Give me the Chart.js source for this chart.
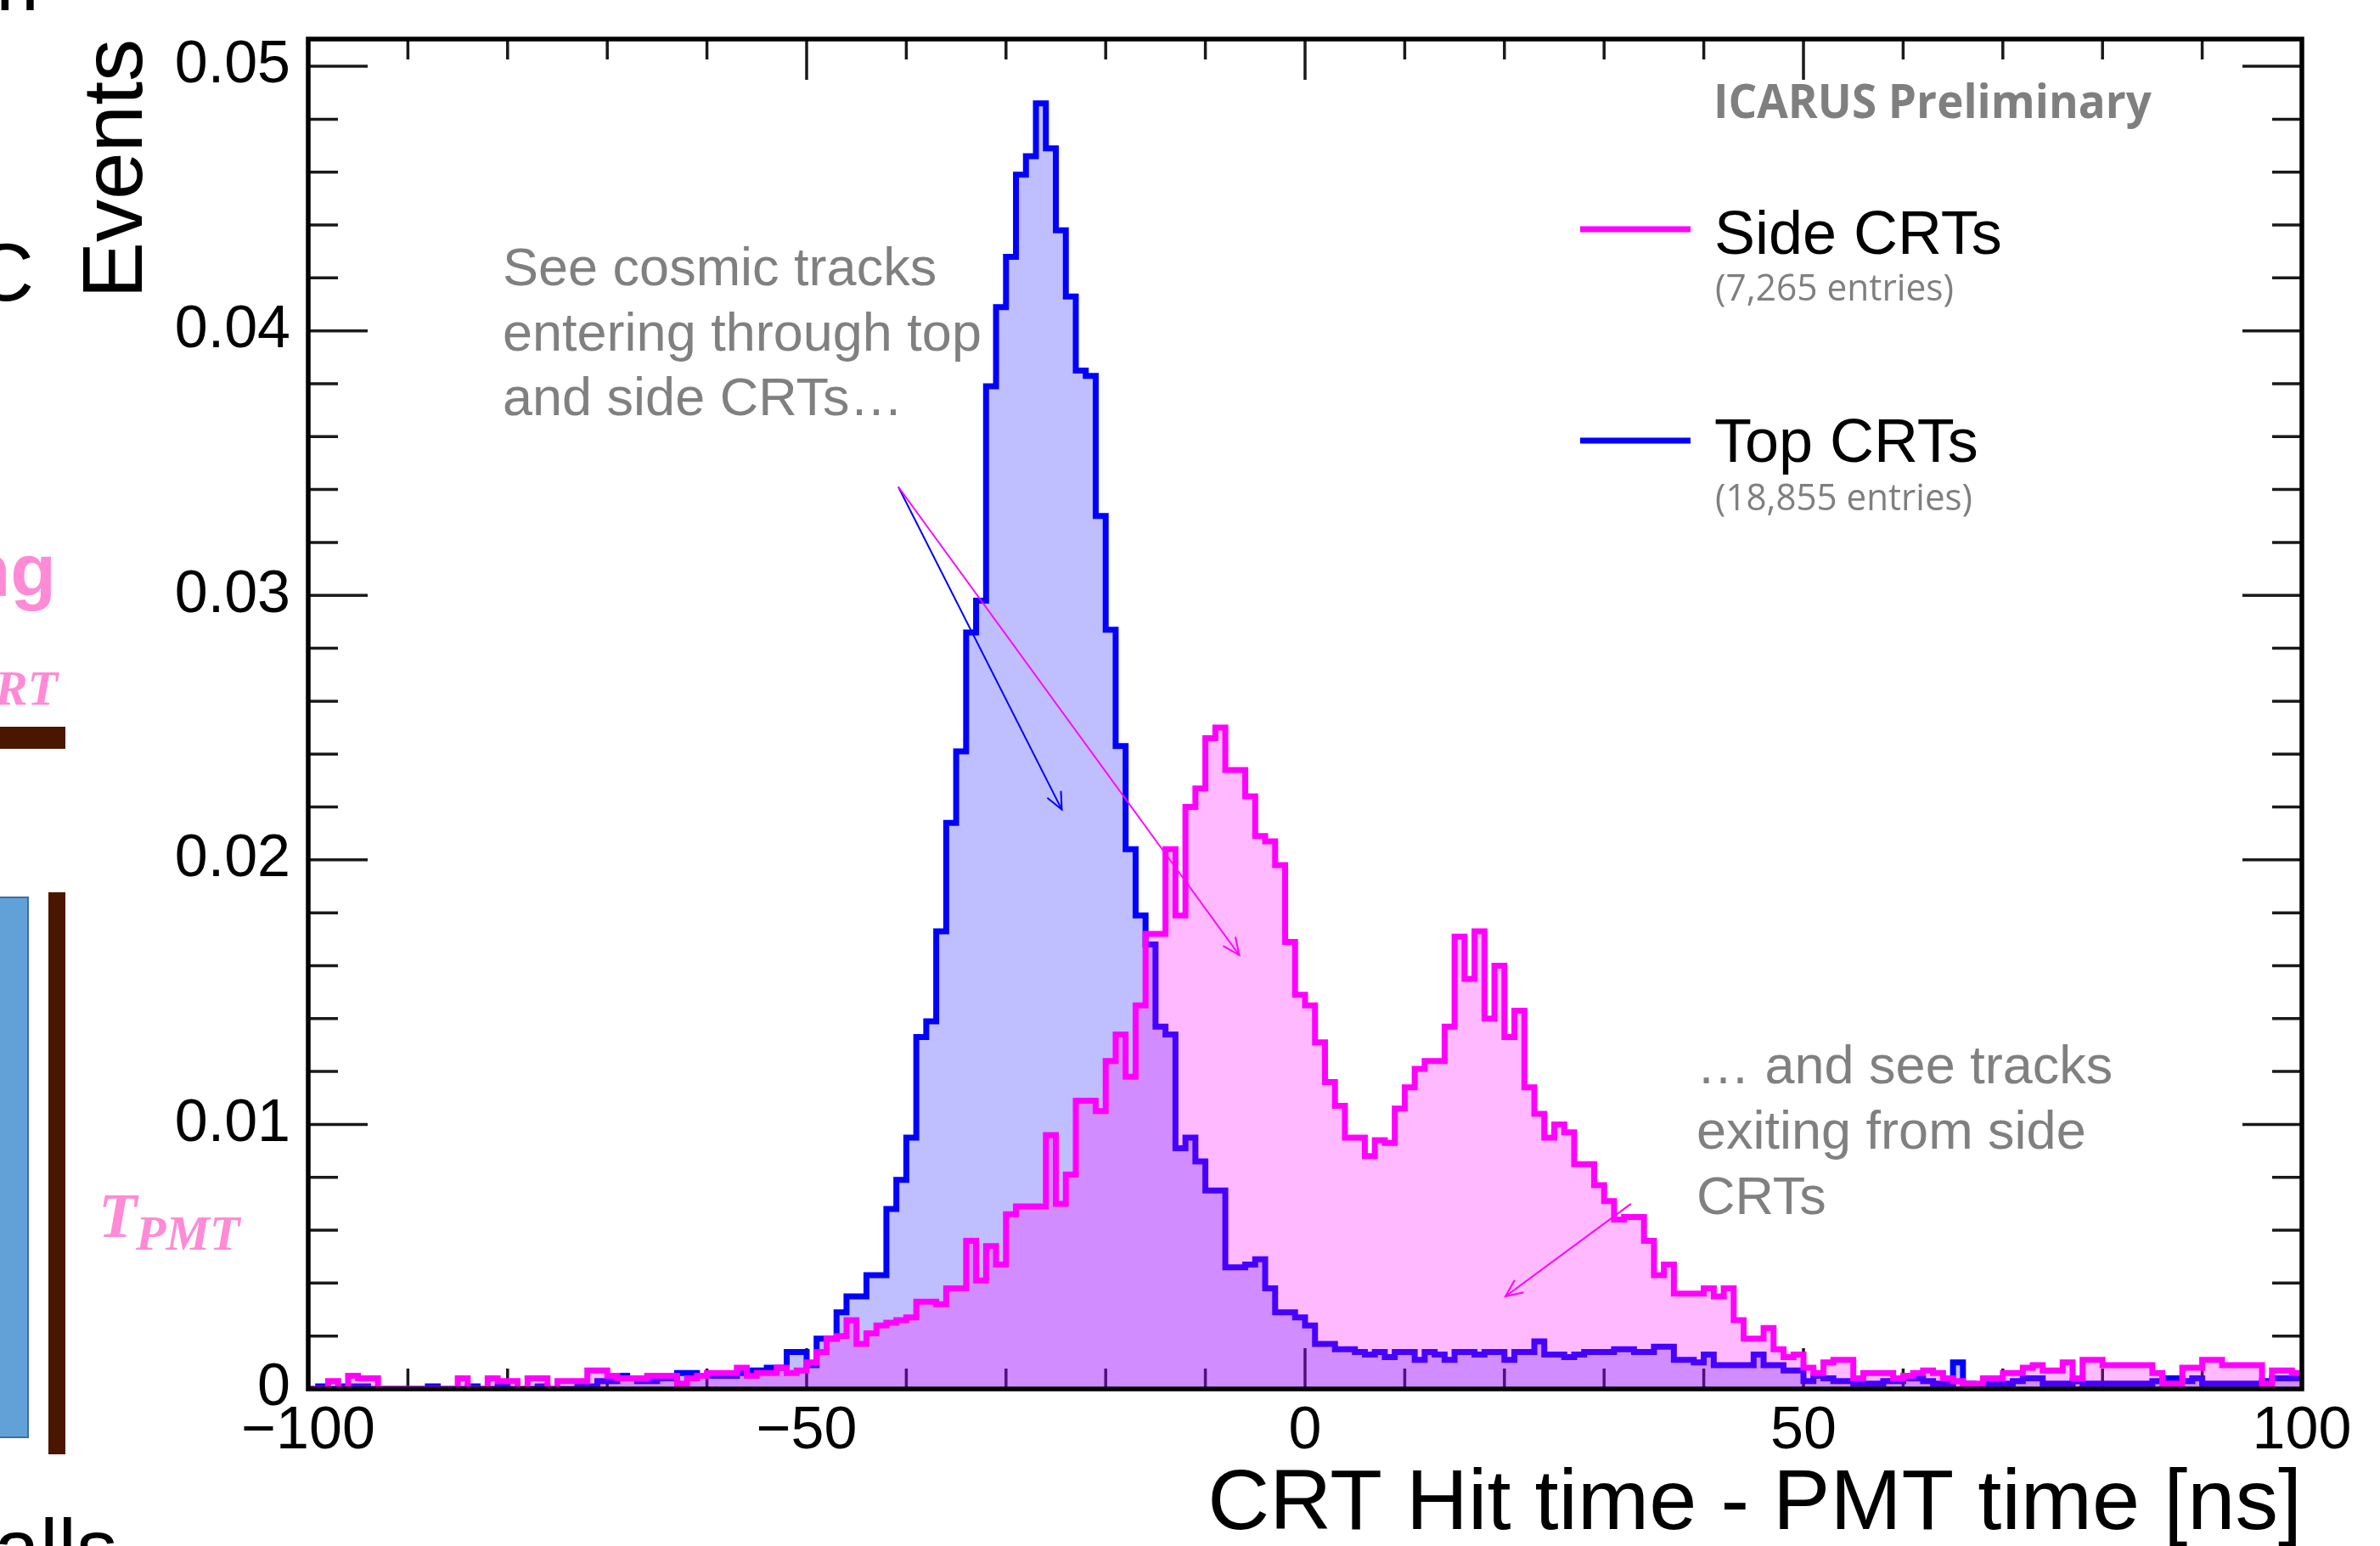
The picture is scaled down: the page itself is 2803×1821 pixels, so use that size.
<!DOCTYPE html>
<html><head><meta charset="utf-8">
<script src="https://cdn.jsdelivr.net/npm/chart.js@4.4.1/dist/chart.umd.min.js"></script>
<style>html,body{margin:0;padding:0;background:#fff;overflow:hidden}canvas{display:block}</style>
</head><body>
<canvas id="c" width="2803" height="1821" style="width:2803px;height:1821px"></canvas>
<script>
// ---- data ----
const BIN_LO = -100;       // left edge of first bin [ns]
const BIN_W = 1;           // bin width [ns]
const seriesNames = ['Side CRTs', 'Top CRTs'];
const seriesEntries = ['(7,265 entries)', '(18,855 entries)'];
const xTickValues = [-100, -50, 0, 50, 100];
const yTickValues = [0, 0.01, 0.02, 0.03, 0.04, 0.05];
const xTitle = 'CRT Hit time - PMT time [ns]';
const yTitle = 'Events';

// Side CRTs, bins -100 .. 99
const sideCRT = [
  0, 0, 0.0003, 0, 0.0005, 0.0004, 0.0004, 0, 0, 0,
  0, 0, 0, 0, 0, 0.0004, 0, 0, 0.0004, 0.0003,
  0.0003, 0, 0.0004, 0.0004, 0, 0.0003, 0.0003, 0.0003, 0.0007, 0.0007,
  0.0005, 0.0004, 0.0004, 0.0004, 0.0005, 0.0005, 0.0005, 0.0002, 0.0004, 0.0005,
  0.0006, 0.0006, 0.0006, 0.0008, 0.0005, 0.0006, 0.0006, 0.0008, 0.0006, 0.0007,
  0.0010, 0.0014, 0.0019, 0.0020, 0.0026, 0.0017, 0.0021, 0.0024, 0.0025, 0.0026,
  0.0027, 0.0033, 0.0033, 0.0032, 0.0038, 0.0038, 0.0056, 0.0041, 0.0054, 0.0047,
  0.0066, 0.0069, 0.0069, 0.0069, 0.0096, 0.0070, 0.0081, 0.0109, 0.0109, 0.0105,
  0.0124, 0.0134, 0.0118, 0.0145, 0.0172, 0.0172, 0.0204, 0.0179, 0.0220, 0.0227,
  0.0246, 0.0250, 0.0234, 0.0234, 0.0224, 0.0209, 0.0207, 0.0198, 0.0169, 0.0149,
  0.0145, 0.0131, 0.0116, 0.0107, 0.0095, 0.0095, 0.0088, 0.0094, 0.0093, 0.0106,
  0.0114, 0.0121, 0.0124, 0.0124, 0.0137, 0.0171, 0.0155, 0.0173, 0.0140, 0.0160,
  0.0133, 0.0143, 0.0114, 0.0104, 0.0095, 0.0100, 0.0097, 0.0085, 0.0085, 0.0077,
  0.0071, 0.0064, 0.0065, 0.0065, 0.0056, 0.0043, 0.0047, 0.0036, 0.0036, 0.0036,
  0.0038, 0.0035, 0.0038, 0.0026, 0.0019, 0.0019, 0.0023, 0.0015, 0.0012, 0.0013,
  0.0008, 0.0006, 0.0010, 0.0011, 0.0011, 0.0004, 0.0006, 0.0006, 0.0006, 0.0004,
  0.0005, 0.0006, 0.0007, 0.0006, 0.0004, 0.0003, 0.0002, 0.0002, 0.0004, 0.0004,
  0.0006, 0.0006, 0.0008, 0.0009, 0.0007, 0.0007, 0.0010, 0.0004, 0.0011, 0.0011,
  0.0009, 0.0009, 0.0009, 0.0009, 0.0009, 0.0006, 0.0002, 0.0002, 0.0008, 0.0008,
  0.0011, 0.0011, 0.0009, 0.0009, 0.0009, 0.0009, 0.0002, 0.0007, 0.0007, 0.0006
];

// Top CRTs, bins -100 .. 99
const topCRT = [
  0, 0.0001, 0, 0.0001, 0.0001, 0.0001, 0, 0, 0, 0,
  0, 0, 0.0001, 0, 0, 0, 0.0001, 0, 0, 0.0001,
  0, 0, 0, 0.0001, 0, 0, 0, 0.0001, 0.0001, 0.0003,
  0.0003, 0.0005, 0.0004, 0.0003, 0.0003, 0.0004, 0.0004, 0.0006, 0.0006, 0.0005,
  0.0005, 0.0005, 0.0005, 0.0006, 0.0007, 0.0007, 0.0008, 0.0008, 0.0014, 0.0014,
  0.0009, 0.0019, 0.0019, 0.0029, 0.0035, 0.0035, 0.0043, 0.0043, 0.0068, 0.0079,
  0.0095, 0.0133, 0.0139, 0.0173, 0.0214, 0.0241, 0.0286, 0.0298, 0.0379, 0.0409,
  0.0428, 0.0459, 0.0466, 0.0486, 0.0469, 0.0438, 0.0413, 0.0385, 0.0383, 0.0330,
  0.0287, 0.0243, 0.0204, 0.0179, 0.0168, 0.0137, 0.0134, 0.0091, 0.0095, 0.0086,
  0.0075, 0.0075, 0.0046, 0.0046, 0.0047, 0.0049, 0.0038, 0.0029, 0.0029, 0.0027,
  0.0024, 0.0017, 0.0017, 0.0015, 0.0015, 0.0014, 0.0013, 0.0014, 0.0012, 0.0014,
  0.0014, 0.0011, 0.0014, 0.0013, 0.0011, 0.0014, 0.0014, 0.0013, 0.0014, 0.0014,
  0.0011, 0.0014, 0.0014, 0.0018, 0.0013, 0.0013, 0.0012, 0.0013, 0.0014, 0.0014,
  0.0014, 0.0015, 0.0015, 0.0014, 0.0014, 0.0016, 0.0016, 0.0011, 0.0011, 0.0010,
  0.0013, 0.0009, 0.0009, 0.0009, 0.0009, 0.0013, 0.0009, 0.0009, 0.0007, 0.0007,
  0.0003, 0.0005, 0.0004, 0.0003, 0.0003, 0.0002, 0.0002, 0.0002, 0.0003, 0.0003,
  0.0004, 0.0004, 0.0003, 0.0002, 0.0002, 0.0010, 0.0002, 0.0001, 0.0002, 0.0002,
  0.0002, 0.0003, 0.0004, 0.0004, 0.0002, 0.0002, 0.0002, 0.0003, 0.0002, 0.0002,
  0.0002, 0.0002, 0.0002, 0.0002, 0.0002, 0.0003, 0.0004, 0.0004, 0.0003, 0.0004,
  0.0002, 0.0002, 0.0002, 0.0002, 0.0002, 0.0002, 0.0003, 0.0004, 0.0004, 0.0004
];

// annotation arrows, in data coordinates [x ns, y events]
const arrowTop   = [[-40.8, 0.0341], [-24.4, 0.0219]];
const arrowSide1 = [[-40.8, 0.0341], [-6.6, 0.0164]];
const arrowSide2 = [[32.7, 0.0070], [20.1, 0.0035]];
const note1 = ['See cosmic tracks', 'entering through top', 'and side CRTs\u2026'];
const note2 = ['\u2026 and see tracks', 'exiting from side', 'CRTs'];

// ---- helpers ----
function toSteps(vals) {
  const pts = vals.map((v, i) => ({ x: BIN_LO + i * BIN_W, y: v }));
  pts.push({ x: BIN_LO + vals.length * BIN_W, y: vals[vals.length - 1] });
  return pts;
}
const SANS = '"Liberation Sans", Arial, Helvetica, sans-serif';
const MAG = '#ff00ff', BLU = '#0000ff', GRAY = '#808080', PINK = '#ff8ad6', BROWN = '#4a1600';

function fitText(ctx, text, x, y, font, color, width) {
  ctx.save();
  ctx.font = font; ctx.fillStyle = color; ctx.textBaseline = 'alphabetic'; ctx.textAlign = 'left';
  const w = ctx.measureText(text).width;
  ctx.translate(x, y);
  ctx.scale(width / w, 1);
  ctx.fillText(text, 0, 0);
  ctx.restore();
}
function arrow(ctx, chart, seg, color) {
  const xs = chart.scales.x, ys = chart.scales.y;
  const x0 = xs.getPixelForValue(seg[0][0]), y0 = ys.getPixelForValue(seg[0][1]);
  const x1 = xs.getPixelForValue(seg[1][0]), y1 = ys.getPixelForValue(seg[1][1]);
  ctx.save();
  ctx.strokeStyle = color; ctx.lineWidth = 2;
  ctx.beginPath(); ctx.moveTo(x0, y0); ctx.lineTo(x1, y1); ctx.stroke();
  const a = Math.atan2(y1 - y0, x1 - x0), L = 22, h = 0.42;
  ctx.beginPath();
  ctx.moveTo(x1 - L * Math.cos(a - h), y1 - L * Math.sin(a - h));
  ctx.lineTo(x1, y1);
  ctx.lineTo(x1 - L * Math.cos(a + h), y1 - L * Math.sin(a + h));
  ctx.stroke();
  ctx.restore();
}

// ticks inside the frame (ROOT style), drawn under the histograms
const tickPlugin = {
  id: 'rootTicks',
  beforeDatasetsDraw(chart) {
    const { ctx, chartArea: { left, right, top, bottom } } = chart;
    const xs = chart.scales.x, ys = chart.scales.y;
    ctx.save();
    ctx.strokeStyle = '#1a1a1a'; ctx.lineWidth = 3.5;
    ctx.beginPath();
    for (let v = xs.min; v <= xs.max + 1e-9; v += 10) {
      const px = xs.getPixelForValue(v);
      const L = (Math.abs(v % 50) < 1e-9) ? 48 : 24;
      ctx.moveTo(px, bottom); ctx.lineTo(px, bottom - L);
      ctx.moveTo(px, top); ctx.lineTo(px, top + L);
    }
    for (let k = 0; k <= 25; k++) {
      const py = ys.getPixelForValue(k * 0.002);
      if (py < top) continue;
      const L = (k % 5 === 0) ? 70 : 35;
      ctx.moveTo(left, py); ctx.lineTo(left + L, py);
      ctx.moveTo(right, py); ctx.lineTo(right - L, py);
    }
    ctx.stroke();
    ctx.restore();
  },
  afterDatasetsDraw(chart) {
    const { ctx, chartArea: { left, right, top, bottom } } = chart;
    ctx.save();
    ctx.strokeStyle = '#000'; ctx.lineWidth = 5.5;
    ctx.strokeRect(left, top, right - left, bottom - top);
    ctx.restore();
  }
};

// legend, labels, annotations and slide fragments
const decoPlugin = {
  id: 'deco',
  afterDraw(chart) {
    const ctx = chart.ctx;
    // slide fragments on the left
    ctx.save();
    ctx.fillStyle = '#000'; ctx.font = '97px ' + SANS; ctx.textAlign = 'right'; ctx.textBaseline = 'alphabetic';
    ctx.fillText('C', 40, 354);
    ctx.fillText('m', 46, 12);
    ctx.textAlign = 'left';
    ctx.fillText('Walls', -95, 1857);
    ctx.fillStyle = PINK; ctx.textAlign = 'right';
    ctx.font = 'bold 88px ' + SANS;
    ctx.fillText('ng', 66, 702);
    ctx.font = 'italic bold 58px "Liberation Serif", serif';
    ctx.fillText('RT', 68, 830);
    ctx.textAlign = 'left';
    ctx.font = 'italic bold 74px "Liberation Serif", serif';
    ctx.fillText('T', 116, 1457);
    ctx.font = 'italic bold 58px "Liberation Serif", serif';
    ctx.fillText('PMT', 160, 1472);
    ctx.fillStyle = BROWN;
    ctx.fillRect(0, 856, 77, 26);
    ctx.fillRect(57, 1051, 20, 662);
    ctx.fillStyle = '#62a0d8';
    ctx.fillRect(-10, 1057, 43, 636);
    ctx.strokeStyle = '#3f6fa0'; ctx.lineWidth = 2;
    ctx.strokeRect(-10, 1057, 43, 636);
    ctx.restore();

    // ICARUS Preliminary
    fitText(ctx, 'ICARUS Preliminary', 2018, 139, 'bold 55px "Open Sans", sans-serif', '#7f7f7f', 516);
    // legend
    ctx.save();
    ctx.lineWidth = 7; ctx.lineCap = 'butt';
    ctx.strokeStyle = MAG; ctx.beginPath(); ctx.moveTo(1861, 270); ctx.lineTo(1991, 270); ctx.stroke();
    ctx.strokeStyle = BLU; ctx.beginPath(); ctx.moveTo(1861, 519); ctx.lineTo(1991, 519); ctx.stroke();
    ctx.fillStyle = '#000'; ctx.font = '72px ' + SANS; ctx.textAlign = 'left'; ctx.textBaseline = 'alphabetic';
    ctx.fillText(seriesNames[0], 2019, 299);
    ctx.fillText(seriesNames[1], 2019, 544);
    ctx.restore();
    fitText(ctx, seriesEntries[0], 2020, 354, '43px "Open Sans", sans-serif', '#7f7f7f', 281);
    fitText(ctx, seriesEntries[1], 2020, 601, '43px "Open Sans", sans-serif', '#7f7f7f', 303);

    // annotations
    ctx.save();
    ctx.fillStyle = GRAY; ctx.font = '63px ' + SANS; ctx.textAlign = 'left'; ctx.textBaseline = 'alphabetic';
    note1.forEach((t, i) => ctx.fillText(t, 592, 336 + i * 76.5));
    note2.forEach((t, i) => ctx.fillText(t, 1998, 1276 + i * 76.8));
    ctx.restore();
    arrow(ctx, chart, arrowTop, BLU);
    arrow(ctx, chart, arrowSide1, MAG);
    arrow(ctx, chart, arrowSide2, MAG);
  }
};

new Chart(document.getElementById('c').getContext('2d'), {
  type: 'line',
  data: {
    datasets: [
      { label: seriesNames[0], data: toSteps(sideCRT), stepped: true, borderColor: MAG,
        backgroundColor: 'rgba(255,0,255,0.27)', fill: 'origin', borderWidth: 7,
        pointRadius: 0, borderJoinStyle: 'miter', borderCapStyle: 'butt' },
      { label: seriesNames[1], data: toSteps(topCRT), stepped: true, borderColor: BLU,
        backgroundColor: 'rgba(0,0,255,0.25)', fill: 'origin', borderWidth: 7,
        pointRadius: 0, borderJoinStyle: 'miter', borderCapStyle: 'butt' }
    ]
  },
  options: {
    responsive: false, animation: false, devicePixelRatio: 1,
    layout: { padding: { left: 0, top: 46, right: 92, bottom: 0 } },
    plugins: { legend: { display: false }, tooltip: { enabled: false } },
    scales: {
      x: {
        type: 'linear', min: -100, max: 100,
        afterFit: s => { s.height = 185; },
        afterBuildTicks: s => { s.ticks = xTickValues.map(v => ({ value: v })); },
        grid: { display: false, drawTicks: false }, border: { display: false },
        ticks: { autoSkip: false, maxRotation: 0, minRotation: 0, padding: 9, color: '#000',
          font: { family: SANS, size: 70 },
          callback: v => (v < 0 ? '\u2212' + Math.abs(v) : String(v)) },
        title: { display: true, text: xTitle, align: 'end', color: '#000',
          font: { family: SANS, size: 101, lineHeight: 1 }, padding: { top: 0, bottom: -3 } }
      },
      y: {
        min: 0, max: 0.05103,
        afterFit: s => { s.width = 363; },
        afterBuildTicks: s => { s.ticks = yTickValues.map(v => ({ value: v })); },
        grid: { display: false, drawTicks: false }, border: { display: false },
        ticks: { autoSkip: false, padding: 21, color: '#000',
          font: { family: SANS, size: 70, lineHeight: 0.4 },
          callback: v => (v === 0 ? '0' : v.toFixed(2)) },
        title: { display: true, text: yTitle, align: 'end', color: '#000',
          font: { family: SANS, size: 100, lineHeight: 1 }, padding: { top: 89, bottom: 0 } }
      }
    }
  },
  plugins: [tickPlugin, decoPlugin]
});
</script>
</body></html>
